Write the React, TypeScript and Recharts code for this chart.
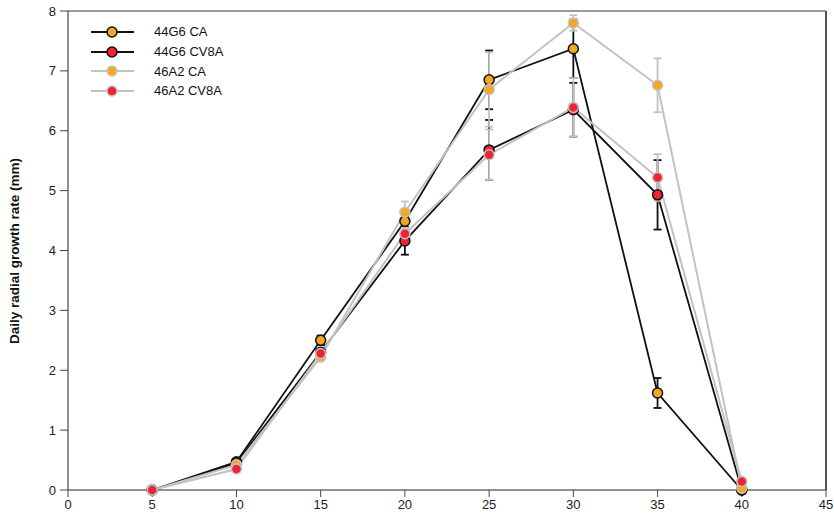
import React from "react";
import {
  LineChart,
  Line,
  XAxis,
  YAxis,
  ErrorBar,
  ReferenceLine,
  Label,
} from "recharts";

// temperatures (°C)
const TEMPS = [5, 10, 15, 20, 25, 30, 35, 40];
const X_TICKS = [0, 5, 10, 15, 20, 25, 30, 35, 40, 45];
const Y_TICKS = [0, 1, 2, 3, 4, 5, 6, 7, 8];

const G44_CA = [0, 0.47, 2.5, 4.49, 6.85, 7.37, 1.62, 0];
const G44_CA_ERR = [0, 0.03, 0.08, 0.1, 0.49, 0.49, 0.25, 0];
const G44_CV8A = [0, 0.45, 2.3, 4.16, 5.68, 6.35, 4.93, 0];
const G44_CV8A_ERR = [0, 0.03, 0.05, 0.23, 0.5, 0.45, 0.58, 0];
const A46_CA = [0, 0.42, 2.22, 4.64, 6.69, 7.8, 6.76, 0.03];
const A46_CA_ERR = [0, 0.03, 0.05, 0.18, 0.62, 0.13, 0.45, 0.02];
const A46_CV8A = [0, 0.35, 2.28, 4.28, 5.6, 6.39, 5.22, 0.14];
const A46_CV8A_ERR = [0, 0.03, 0.05, 0.1, 0.42, 0.49, 0.39, 0.03];

const ORANGE = "#f5a623";
const RED = "#ee2430";
const BLACK = "#111111";
const GREY = "#c2c2c2";

const SERIES = [
  { key: "g44ca", name: "44G6 CA", line: BLACK, fill: ORANGE },
  { key: "g44cv", name: "44G6 CV8A", line: BLACK, fill: RED },
  { key: "a46ca", name: "46A2 CA", line: GREY, fill: ORANGE },
  { key: "a46cv", name: "46A2 CV8A", line: GREY, fill: RED },
];

const data = TEMPS.map((t, i) => ({
  t,
  g44ca: G44_CA[i],
  g44caErr: G44_CA_ERR[i],
  g44cv: G44_CV8A[i],
  g44cvErr: G44_CV8A_ERR[i],
  a46ca: A46_CA[i],
  a46caErr: A46_CA_ERR[i],
  a46cv: A46_CV8A[i],
  a46cvErr: A46_CV8A_ERR[i],
}));

const FONT = "'Liberation Sans', Arial, sans-serif";

function LegendBox() {
  return (
    <div
      style={{
        position: "absolute",
        left: 90,
        top: 22,
        fontFamily: FONT,
        fontSize: 13,
        color: "#111",
      }}
    >
      {SERIES.map((s) => (
        <div key={s.key} style={{ display: "flex", alignItems: "center", height: 19.7 }}>
          <svg width={46} height={14} style={{ display: "block" }}>
            <line x1={1} y1={7} x2={44} y2={7} stroke={s.line} strokeWidth={s.line === BLACK ? 1.8 : 2} />
            <circle cx={22} cy={7} r={5} fill={s.fill} stroke={s.line} strokeWidth={1.5} />
          </svg>
          <span style={{ marginLeft: 18 }}>{s.name}</span>
        </div>
      ))}
    </div>
  );
}

export default function App() {
  return (
    <div style={{ position: "absolute", left: 0, top: 0, width: 834, height: 525, background: "#fff" }}>
      <LineChart
        width={834}
        height={525}
        data={data}
        margin={{ top: 11, right: 8, bottom: 5, left: 0 }}
      >
        <XAxis
          type="number"
          dataKey="t"
          domain={[0, 45]}
          ticks={X_TICKS}
          interval={0}
          stroke="#222"
          tick={{ fill: "#222", fontSize: 13, fontFamily: FONT }}
          tickLine={{ stroke: "#444" }}
          tickSize={7}
          tickMargin={3}
          height={30}
        />
        <YAxis
          type="number"
          domain={[0, 8]}
          ticks={Y_TICKS}
          interval={0}
          width={68}
          stroke="#222"
          tick={{ fill: "#222", fontSize: 13, fontFamily: FONT }}
          tickLine={{ stroke: "#444" }}
          tickSize={8}
          tickMargin={4}
        >
          <Label
            content={() => (
              <text
                x={19}
                y={251}
                transform="rotate(-90 19 251)"
                textAnchor="middle"
                fontFamily={FONT}
                fontSize={13.5}
                fontWeight="bold"
                fill="#111"
              >
                Daily radial growth rate (mm)
              </text>
            )}
          />
        </YAxis>
        <ReferenceLine y={8} stroke="#9a9a9a" strokeWidth={2} />
        <ReferenceLine x={45} stroke="#555" strokeWidth={2} />
        {SERIES.map((s) => (
          <Line
            key={s.key}
            type="linear"
            dataKey={s.key}
            name={s.name}
            stroke={s.line}
            strokeWidth={s.line === BLACK ? 1.8 : 2}
            dot={{ r: 5, fill: s.fill, stroke: s.line, strokeWidth: 1.5 }}
            activeDot={false}
            isAnimationActive={false}
          >
            <ErrorBar
              dataKey={s.key + "Err"}
              direction="y"
              width={4}
              stroke={s.line}
              strokeWidth={1.8}
              isAnimationActive={false}
            />
          </Line>
        ))}
      </LineChart>
      <LegendBox />
    </div>
  );
}
